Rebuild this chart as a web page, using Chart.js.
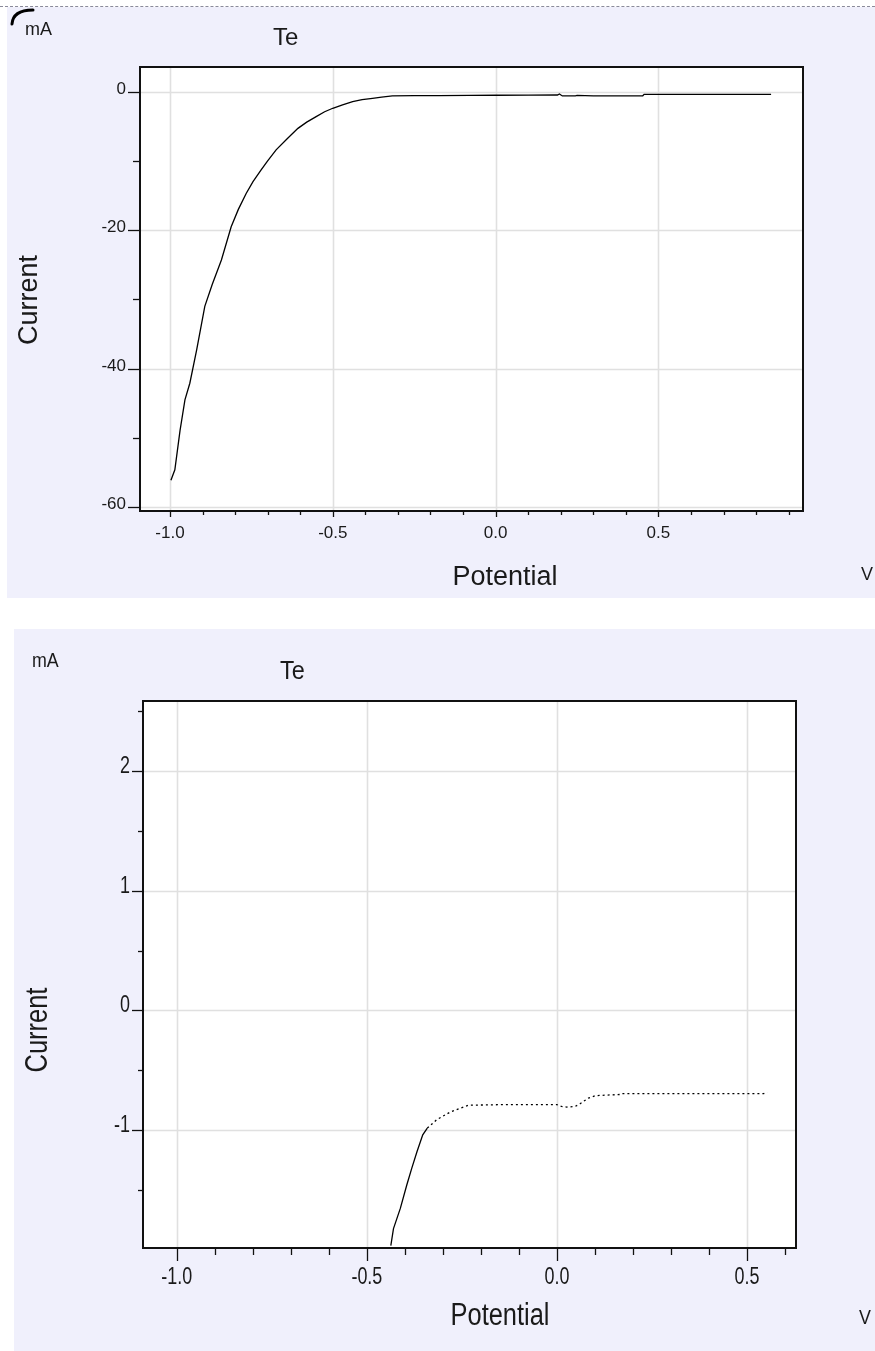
<!DOCTYPE html>
<html>
<head>
<meta charset="utf-8">
<script src="https://cdn.jsdelivr.net/npm/chart.js@4.4.1/dist/chart.umd.min.js"></script>
<style>
  html, body { margin: 0; padding: 0; background: #ffffff; }
  body { width: 875px; height: 1351px; position: relative; overflow: hidden; }
  #dash { position: absolute; left: 0; top: 6px; width: 875px; height: 0; border-top: 1px dashed #8a8a9a; }
  .panel { position: absolute; background: #f0f0fc; }
  #p1 { left: 7px; top: 7px; width: 868px; height: 591px; }
  #p2 { left: 14px; top: 629px; width: 861px; height: 722px; }
  canvas { display: block; }
</style>
</head>
<body>
<div id="dash"></div>
<div class="panel" id="p1"><canvas id="c1" width="868" height="591"></canvas></div>
<div class="panel" id="p2"><canvas id="c2" width="861" height="722"></canvas></div>
<script>
// ---------- DATA ----------
const chartTitle = "Te";
const xAxisTitle = "Potential";
const yAxisTitle = "Current";
const xUnit = "V";
const yUnit = "mA";

// Top chart
const topPotential = [-0.997, -0.985, -0.969, -0.954, -0.939, -0.918, -0.893, -0.870, -0.842, -0.812, -0.790, -0.766, -0.745, -0.720, -0.700, -0.674, -0.640, -0.607, -0.580, -0.551, -0.525, -0.500, -0.470, -0.439, -0.410, -0.378, -0.350, -0.317, -0.250, -0.174, -0.080, 0.000, 0.100, 0.190, 0.196, 0.205, 0.245, 0.250, 0.300, 0.380, 0.452, 0.456, 0.550, 0.650, 0.750, 0.846];
const topCurrent   = [-56.1, -54.6, -48.9, -44.5, -42.1, -37.3, -31.0, -27.8, -24.3, -19.5, -17.0, -14.7, -13.0, -11.3, -10.0, -8.4, -6.8, -5.3, -4.4, -3.6, -2.9, -2.4, -1.9, -1.44, -1.15, -0.96, -0.78, -0.62, -0.58, -0.56, -0.53, -0.52, -0.50, -0.48, -0.33, -0.62, -0.60, -0.55, -0.62, -0.62, -0.60, -0.40, -0.40, -0.38, -0.38, -0.38];
const topXTicks = [-1.0, -0.5, 0.0, 0.5];
const topXTickLabels = ["-1.0", "-0.5", "0.0", "0.5"];
const topXMinorStep = 0.1;
const topYTicks = [0, -20, -40, -60];
const topYTickLabels = ["0", "-20", "-40", "-60"];
const topYMinor = [-10, -30, -50];
const topXRange = [-1.092, 0.944];
const topYRange = [-60.55, 3.56];

// Bottom chart
const botPotential = [-0.437, -0.430, -0.412, -0.395, -0.382, -0.368, -0.353, -0.341, -0.316, -0.281, -0.233, -0.150, -0.080, 0.000, 0.012, 0.026, 0.048, 0.061, 0.083, 0.101, 0.167, 0.171, 0.300, 0.450, 0.544, 0.553];
const botCurrent   = [-1.96, -1.818, -1.65, -1.455, -1.316, -1.176, -1.036, -0.98, -0.91, -0.847, -0.79, -0.785, -0.785, -0.785, -0.80, -0.805, -0.80, -0.777, -0.73, -0.71, -0.70, -0.693, -0.693, -0.693, -0.693, -0.68];
const botXTicks = [-1.0, -0.5, 0.0, 0.5];
const botXTickLabels = ["-1.0", "-0.5", "0.0", "0.5"];
const botXMinorStep = 0.1;
const botYTicks = [2, 1, 0, -1];
const botYTickLabels = ["2", "1", "0", "-1"];
const botYMinor = [2.5, 1.5, 0.5, -0.5, -1.5];
const botXRange = [-1.089, 0.629];
const botYRange = [-1.98, 2.58];
const botDottedFrom = -0.345;

// ---------- helpers ----------
function minorValues(range, step) {
  const out = [];
  const start = Math.ceil(range[0] / step - 1e-9);
  const end = Math.floor(range[1] / step + 1e-9);
  for (let i = start; i <= end; i++) out.push(Math.round(i * step * 1000) / 1000);
  return out;
}

function txt(ctx, s, x, y, font, align, base, sx, rot) {
  ctx.save();
  ctx.translate(x, y);
  if (rot) ctx.rotate(rot);
  ctx.scale(sx || 1, 1);
  ctx.font = font;
  ctx.fillStyle = "#1a1a1a";
  ctx.textAlign = align;
  ctx.textBaseline = base;
  ctx.fillText(s, 0, 0);
  ctx.restore();
}

function makeDecor(cfg) {
  return {
    id: "decor",
    beforeDatasetsDraw(chart) {
      const { ctx, chartArea: a, scales: { x, y } } = chart;
      ctx.save();
      ctx.fillStyle = "#ffffff";
      ctx.fillRect(a.left, a.top, a.right - a.left, a.bottom - a.top);
      ctx.strokeStyle = "#e0e0e0";
      ctx.lineWidth = 1.6;
      cfg.xTicks.forEach(v => {
        const px = Math.round(x.getPixelForValue(v)) + 0.5;
        ctx.beginPath(); ctx.moveTo(px, a.top); ctx.lineTo(px, a.bottom); ctx.stroke();
      });
      cfg.yTicks.forEach(v => {
        const py = Math.round(y.getPixelForValue(v)) + 0.5;
        ctx.beginPath(); ctx.moveTo(a.left, py); ctx.lineTo(a.right, py); ctx.stroke();
      });
      ctx.restore();
    },
    afterDatasetsDraw(chart) {
      const { ctx, chartArea: a, scales: { x, y } } = chart;
      ctx.save();
      ctx.strokeStyle = "#111";
      ctx.lineWidth = 2;
      ctx.strokeRect(a.left, a.top, a.right - a.left, a.bottom - a.top);
      ctx.lineWidth = 1.3;
      // y ticks
      cfg.yTicks.forEach((v, i) => {
        const py = Math.round(y.getPixelForValue(v)) + 0.5;
        ctx.beginPath(); ctx.moveTo(a.left - cfg.yMajorLen, py); ctx.lineTo(a.left, py); ctx.stroke();
        txt(ctx, cfg.yLabels[i], a.left - cfg.yMajorLen - 2, py + 1, cfg.tickFont, "right", "alphabetic", cfg.sx);
      });
      cfg.yMinor.forEach(v => {
        const py = Math.round(y.getPixelForValue(v)) + 0.5;
        ctx.beginPath(); ctx.moveTo(a.left - cfg.yMinorLen, py); ctx.lineTo(a.left, py); ctx.stroke();
      });
      // x ticks
      minorValues(cfg.xRange, cfg.xMinorStep).forEach(v => {
        const px = Math.round(x.getPixelForValue(v)) + 0.5;
        const major = cfg.xTicks.some(t => Math.abs(t - v) < 1e-6);
        ctx.beginPath(); ctx.moveTo(px, a.bottom); ctx.lineTo(px, a.bottom + (major ? cfg.xMajorLen : cfg.xMinorLen)); ctx.stroke();
      });
      cfg.xTicks.forEach((v, i) => {
        const px = x.getPixelForValue(v);
        txt(ctx, cfg.xLabels[i], px, a.bottom + cfg.xLabelOff, cfg.tickFont, "center", "middle", cfg.sx);
      });
      // titles
      txt(ctx, chartTitle, cfg.title[0], cfg.title[1], cfg.titleFont, "left", "alphabetic", cfg.titleSx);
      txt(ctx, yUnit, cfg.yUnitPos[0], cfg.yUnitPos[1], cfg.unitFont, "left", "alphabetic", cfg.unitSx);
      txt(ctx, xUnit, cfg.xUnitPos[0], cfg.xUnitPos[1], cfg.unitFont, "center", "middle", cfg.unitSx);
      txt(ctx, xAxisTitle, cfg.xTitle[0], cfg.xTitle[1], cfg.axisFont, "center", "middle", cfg.axisSx);
      txt(ctx, yAxisTitle, cfg.yTitle[0], cfg.yTitle[1], cfg.axisFont, "center", "middle", cfg.axisSx, -Math.PI / 2);
      if (cfg.corner) {
        ctx.strokeStyle = "#000";
        ctx.lineWidth = 3;
        ctx.lineCap = "round";
        ctx.beginPath();
        ctx.moveTo(5, 17);
        ctx.quadraticCurveTo(6, 3, 26, 3);
        ctx.stroke();
      }
      ctx.restore();
    }
  };
}

function build(canvasId, xs, ys, cfg, segmentFn) {
  const pts = xs.map((v, i) => ({ x: v, y: ys[i] }));
  return new Chart(document.getElementById(canvasId), {
    type: "line",
    data: { datasets: [{
      data: pts,
      borderColor: "#000",
      borderWidth: 1.3,
      pointRadius: 0,
      tension: 0,
      fill: false,
      segment: segmentFn ? { borderDash: segmentFn } : undefined
    }] },
    options: {
      responsive: false,
      animation: false,
      devicePixelRatio: 1,
      layout: { padding: cfg.padding },
      plugins: { legend: { display: false }, tooltip: { enabled: false }, title: { display: false } },
      scales: {
        x: { type: "linear", display: false, min: cfg.xRange[0], max: cfg.xRange[1] },
        y: { type: "linear", display: false, min: cfg.yRange[0], max: cfg.yRange[1] }
      }
    },
    plugins: [makeDecor(cfg)]
  });
}

const F = "'Liberation Sans', Arial, sans-serif";

build("c1", topPotential, topCurrent, {
  padding: { left: 133, top: 60, right: 72, bottom: 87 },
  xRange: topXRange, yRange: topYRange,
  xTicks: topXTicks, xLabels: topXTickLabels, xMinorStep: topXMinorStep,
  yTicks: topYTicks, yLabels: topYTickLabels, yMinor: topYMinor,
  yMajorLen: 12, yMinorLen: 7, xMajorLen: 6, xMinorLen: 4, xLabelOff: 22,
  tickFont: "17px " + F, sx: 1,
  titleFont: "24px " + F, titleSx: 1, title: [266, 38],
  unitFont: "18px " + F, unitSx: 1, yUnitPos: [18, 28], xUnitPos: [860, 568],
  axisFont: "27px " + F, axisSx: 1, xTitle: [498, 571], yTitle: [23, 293],
  corner: true
});

build("c2", botPotential, botCurrent, {
  padding: { left: 129, top: 72, right: 79, bottom: 103 },
  xRange: botXRange, yRange: botYRange,
  xTicks: botXTicks, xLabels: botXTickLabels, xMinorStep: botXMinorStep,
  yTicks: botYTicks, yLabels: botYTickLabels, yMinor: botYMinor,
  yMajorLen: 11, yMinorLen: 5, xMajorLen: 13, xMinorLen: 7, xLabelOff: 30,
  tickFont: "23px " + F, sx: 0.78,
  titleFont: "26px " + F, titleSx: 0.9, title: [266, 50],
  unitFont: "21px " + F, unitSx: 0.85, yUnitPos: [18, 38], xUnitPos: [851, 689],
  axisFont: "31px " + F, axisSx: 0.82, xTitle: [486, 687], yTitle: [24, 401],
  corner: false
}, ctx => (ctx.p0.parsed.x >= botDottedFrom ? [2, 3] : undefined));
</script>
</body>
</html>
